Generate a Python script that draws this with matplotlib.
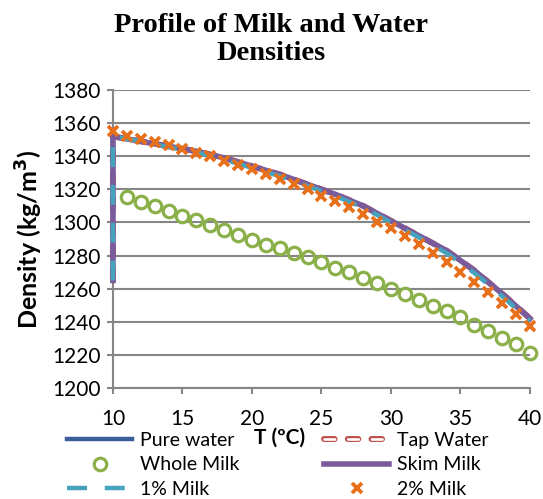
import matplotlib
matplotlib.use("Agg")
import matplotlib.pyplot as plt
import matplotlib.patheffects as pe

# temperature (degC); the first point repeats 10 to give the vertical start segment
T_line = [10, 10, 12, 14, 16, 18, 20, 22, 24, 26, 28, 30, 32, 34, 36, 38, 40]
pure_water = [1265, 1352, 1349, 1346, 1343, 1339, 1334, 1329, 1323, 1317, 1310, 1301, 1292, 1283, 1271, 1257, 1242]
tap_water = [1265, 1352, 1349, 1346, 1343, 1339, 1334, 1329, 1323, 1317, 1310, 1301, 1292, 1283, 1271, 1257, 1242]
skim_milk = [1265, 1352, 1349, 1346, 1343, 1339, 1334, 1329, 1323, 1317, 1310, 1301, 1292, 1283, 1271, 1257, 1242]
milk_1 = [1265, 1352, 1349, 1345.5, 1342.5, 1338, 1333, 1328, 1322, 1316, 1309, 1300, 1291, 1281.5, 1269.5, 1255.5, 1240.5]

T_whole = list(range(11, 41))
whole_milk = [1315.2, 1312.2, 1310.0, 1307.0, 1304.1, 1301.5, 1298.5, 1295.5, 1292.4, 1289.4,
              1286.6, 1284.4, 1281.8, 1279.0, 1276.0, 1272.7, 1269.9, 1266.3, 1263.3, 1260.0,
              1256.6, 1253.2, 1249.8, 1246.5, 1242.7, 1238.0, 1234.5, 1230.4, 1226.4, 1221.4]

T_2 = list(range(10, 41))
milk_2 = [1355.4, 1352.4, 1350.6, 1348.8, 1346.8, 1344.4, 1342.1, 1340.1, 1337.3, 1334.7,
          1332.1, 1329.3, 1326.3, 1323.2, 1320.0, 1316.2, 1313.0, 1309.2, 1305.1, 1300.5,
          1296.5, 1291.8, 1286.8, 1281.4, 1276.0, 1270.3, 1264.3, 1258.2, 1251.6, 1244.7, 1237.7]

plt.rcParams['font.family'] = ['Lato', 'DejaVu Sans']

fig = plt.figure(figsize=(5.43, 4.99), dpi=100)
ax = fig.add_axes([0.208, 0.2224, 0.768, 0.5972])

grid_c = '#868686'
ax.plot(T_line, pure_water, color='#3B5E99', lw=3.2, label='Pure water', zorder=2.8, clip_on=False)
# tap water: red outlined round dashes
ax.plot(T_line, tap_water, color='white', lw=1.9, ls=(0, (4, 5)),
        dash_capstyle='round', label='Tap Water', zorder=2.9, clip_on=False,
        path_effects=[pe.Stroke(linewidth=4.3, foreground='#C0504D'), pe.Normal()])
ax.plot(T_whole, whole_milk, ls='none', marker='o', ms=9, mfc='none',
        mec='#8BB04A', mew=2.3, label='Whole Milk', zorder=3, clip_on=False)
ax.plot(T_line, skim_milk, color='#7A5B9C', lw=4.0, label='Skim Milk', zorder=3, clip_on=False)
ax.plot(T_line, milk_1, color='#46A3BD', lw=3.2, ls=(0, (4.5, 4)), label='1% Milk',
        zorder=3, clip_on=False)
ax.plot(T_2, milk_2, ls='none', marker='x', ms=7.5, mew=2.7, color='#E8701A',
        label='2% Milk', zorder=3, clip_on=False)

ax.set_xlim(10, 40)
ax.set_ylim(1200, 1380)
ax.set_xticks(range(10, 41, 5))
ax.set_yticks(range(1200, 1381, 20))
ax.grid(axis='y', color=grid_c, lw=1.5)
ax.set_axisbelow(True)
for s in ['top', 'right']:
    ax.spines[s].set_visible(False)
for s in ['left', 'bottom']:
    ax.spines[s].set_color(grid_c)
    ax.spines[s].set_linewidth(1.5)
ax.tick_params(colors=grid_c, labelcolor='black', labelsize=15, width=1.5, length=4)
ax.tick_params(axis='y', pad=5)
ax.tick_params(axis='x', pad=11)

fig.suptitle('Profile of Milk and Water\nDensities', family='Liberation Serif',
             fontweight='bold', fontsize=20.5, y=0.973, linespacing=1.12)
ax.set_ylabel('Density (kg/m$^\\mathbf{3}$)', fontsize=18, fontweight='bold', labelpad=5)
ax.set_xlabel('T (ºC)', fontsize=15, fontweight='bold')
ax.xaxis.set_label_coords(0.40, -0.132)

handles, labels = ax.get_legend_handles_labels()
order = [0, 2, 4, 1, 3, 5]
fig.legend([handles[i] for i in order], [labels[i] for i in order], ncol=2,
           loc='lower left', bbox_to_anchor=(0.102, -0.021), frameon=False,
           borderpad=0.1, fontsize=14, handlelength=3.35, columnspacing=4.35,
           labelspacing=0.38, handletextpad=0.4)

fig.savefig('out.png', dpi=100)
